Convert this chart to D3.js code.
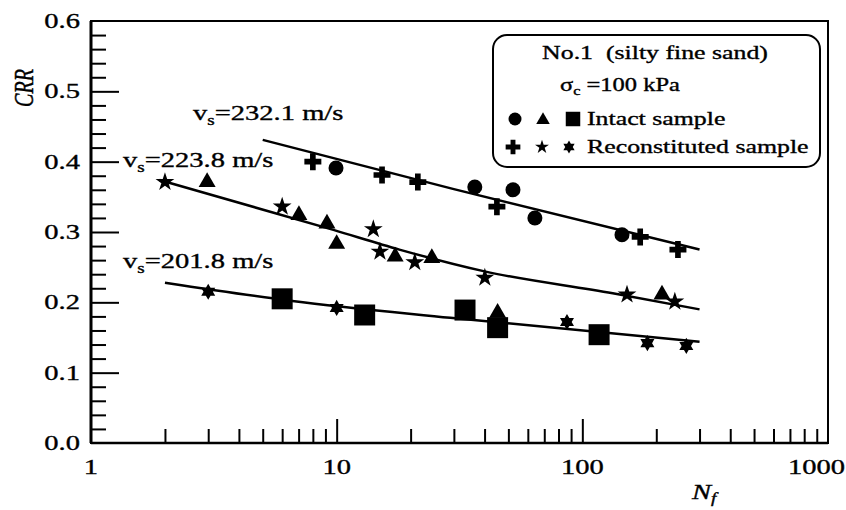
<!DOCTYPE html>
<html>
<head>
<meta charset="utf-8">
<script src="https://cdn.jsdelivr.net/npm/d3@7"></script>
<style>
  body { margin: 0; background: #fff; }
  text { font-family: "Liberation Serif", "Times New Roman", serif; fill: #000; stroke: #000; stroke-width: 0.35; }
</style>
</head>
<body>
<svg id="chart" width="846" height="510"></svg>
<script>
// ---- axis ticks ----
const xTickValues = [1, 10, 100, 1000];
const xTickLabels = ["1", "10", "100", "1000"];
const yTickValues = [0, 0.1, 0.2, 0.3, 0.4, 0.5, 0.6];
const yTickLabels = ["0.0", "0.1", "0.2", "0.3", "0.4", "0.5", "0.6"];

// ---- vs = 232.1 m/s ----
const circleN   = [9.94, 36.5, 52.2, 64.1, 145];
const circleCRR = [0.391, 0.364, 0.360, 0.320, 0.296];
const plusN     = [8.0, 15.3, 21.4, 44.9, 172, 245];
const plusCRR   = [0.400, 0.381, 0.371, 0.336, 0.293, 0.275];
const fitTopN   = [5, 30, 300];
const fitTopCRR = [0.431, 0.361, 0.275];

// ---- vs = 223.8 m/s ----
const triangleN   = [2.97, 7.02, 9.13, 10.0, 17.3, 24.4, 211, 45.2];
const triangleCRR = [0.371, 0.324, 0.312, 0.283, 0.265, 0.263, 0.211, 0.185];
const starN       = [2.0, 6.0, 14.1, 15.0, 20.8, 40.1, 152, 238];
const starCRR     = [0.371, 0.336, 0.304, 0.272, 0.257, 0.235, 0.211, 0.201];
const fitMidN     = [1.9, 9.7, 18, 40, 133, 300];
const fitMidCRR   = [0.374, 0.303, 0.275, 0.244, 0.213, 0.190];

// ---- vs = 201.8 m/s ----
const squareN    = [6.0, 13.0, 33.3, 45.2, 117];
const squareCRR  = [0.205, 0.182, 0.189, 0.164, 0.154];
const star6N     = [3.0, 10.0, 86.6, 184, 265];
const star6CRR   = [0.215, 0.192, 0.172, 0.142, 0.138];
const fitLowN    = [2, 6.6, 29, 300];
const fitLowCRR  = [0.228, 0.202, 0.178, 0.144];

const legendTitle = "No.1\u00a0\u00a0(silty fine sand)";
const legendIntact = "Intact sample";
const legendRecon = "Reconstituted sample";

// ---- layout ----
const svg = d3.select("#chart");
const plotLeft = 91, plotRight = 828, plotTop = 21, plotBottom = 443;
const x = d3.scaleLog().domain([1, 1000]).range([plotLeft, plotRight]);
const y = d3.scaleLinear().domain([0, 0.6]).range([plotBottom, plotTop]);
const SX = 1.36; // horizontal stretch of the lettering

// six-pointed star marker
const symbolStar6 = {
  draw(ctx, size) {
    const r = Math.sqrt(size / 2.6), ri = r * 0.58;
    for (let i = 0; i < 12; i++) {
      const a = Math.PI * i / 6 - Math.PI / 2;
      const rr = i % 2 ? ri : r;
      const px = rr * Math.cos(a), py = rr * Math.sin(a);
      if (i === 0) ctx.moveTo(px, py); else ctx.lineTo(px, py);
    }
    ctx.closePath();
  }
};

function label(g, px, py, size, anchor) {
  return g.append("text")
    .attr("transform", `translate(${px},${py}) scale(${SX},1)`)
    .attr("font-size", size)
    .attr("text-anchor", anchor || "start");
}

// ---- frame ----
svg.append("rect")
  .attr("x", plotLeft).attr("y", plotTop)
  .attr("width", plotRight - plotLeft).attr("height", plotBottom - plotTop)
  .attr("fill", "none").attr("stroke", "#000").attr("stroke-width", 2);
svg.append("line").attr("x1", plotLeft).attr("x2", plotLeft).attr("y1", plotTop).attr("y2", plotBottom)
  .attr("stroke", "#000").attr("stroke-width", 3);
svg.append("line").attr("x1", plotLeft).attr("x2", plotRight).attr("y1", plotBottom).attr("y2", plotBottom)
  .attr("stroke", "#000").attr("stroke-width", 2.5);

// ---- y ticks (inward) ----
const yMinor = d3.range(1, 30).map(k => k * 0.02);
const yAxis = d3.axisRight(y).tickValues(yMinor).tickSize(15).tickFormat("");
const gy = svg.append("g").attr("transform", `translate(${plotLeft},0)`).call(yAxis);
gy.select(".domain").remove();
gy.selectAll("line")
  .attr("x2", d => (Math.abs(d * 10 - Math.round(d * 10)) < 1e-6 ? 28 : 15))
  .attr("stroke-width", 2);

yTickValues.forEach((v, i) => {
  label(svg, 80, y(v) + 7, 21, "end").text(yTickLabels[i]);
});

// ---- x ticks (inward) ----
const xMinor = [];
[1, 10, 100].forEach(d => { for (let k = 2; k <= 10; k++) xMinor.push(d * k); });
const xAxis = d3.axisTop(x).tickValues(xMinor.filter(v => v < 1000)).tickSize(14).tickFormat("");
const gx = svg.append("g").attr("transform", `translate(0,${plotBottom})`).call(xAxis);
gx.select(".domain").remove();
gx.selectAll("line")
  .attr("y2", d => (d === 10 || d === 100 ? -24 : -14))
  .attr("stroke-width", 2);

xTickValues.forEach((v, i) => {
  const last = i === xTickValues.length - 1;
  label(svg, last ? 845 : x(v), 474, 21, last ? "end" : "middle").text(xTickLabels[i]);
});

// axis titles
const ny = label(svg, 692, 499, 21, "start").attr("font-style", "italic");
ny.append("tspan").text("N");
ny.append("tspan").attr("font-size", 14).attr("dy", 4).text("f");

svg.append("text")
  .attr("transform", `translate(33,88) rotate(-90) scale(1,${SX})`)
  .attr("font-size", 20).attr("font-style", "italic")
  .attr("text-anchor", "middle").text("CRR");

// ---- fitted curves ----
const fitLine = d3.line().x(d => x(d[0])).y(d => y(d[1])).curve(d3.curveMonotoneX);
[[fitTopN, fitTopCRR], [fitMidN, fitMidCRR], [fitLowN, fitLowCRR]].forEach(([ns, cs]) => {
  svg.append("path")
    .attr("d", fitLine(ns.map((n, i) => [n, cs[i]])))
    .attr("fill", "none").attr("stroke", "#000").attr("stroke-width", 2.5);
});

// ---- markers ----
function plotSeries(ns, cs, type, size) {
  const sym = d3.symbol().type(type).size(size);
  svg.append("g").selectAll("path")
    .data(ns.map((n, i) => [n, cs[i]]))
    .join("path")
    .attr("transform", d => `translate(${x(d[0])},${y(d[1])})`)
    .attr("d", sym)
    .attr("fill", "#000");
}
plotSeries(circleN, circleCRR, d3.symbolCircle, 177);
plotSeries(plusN, plusCRR, d3.symbolCross, 160);
plotSeries(triangleN, triangleCRR, d3.symbolTriangle, 125);
plotSeries(starN, starCRR, d3.symbolStar, 110);
plotSeries(squareN, squareCRR, d3.symbolSquare, 441);
plotSeries(star6N, star6CRR, symbolStar6, 170);

// ---- curve labels ----
function vsLabel(px, py, value) {
  const t = label(svg, px, py, 21, "start");
  t.append("tspan").text("v");
  t.append("tspan").attr("font-size", 14).attr("dy", 5).text("s");
  t.append("tspan").attr("dy", -5).text("=" + value + " m/s");
}
vsLabel(193, 120, "232.1");
vsLabel(123, 167, "223.8");
vsLabel(123, 268, "201.8");

// ---- legend ----
svg.append("rect")
  .attr("x", 493).attr("y", 35).attr("width", 327).attr("height", 132)
  .attr("rx", 14).attr("ry", 14)
  .attr("fill", "#fff").attr("stroke", "#000").attr("stroke-width", 2);

label(svg, 655, 59, 19, "middle").text(legendTitle);
const sig = label(svg, 560, 91, 18, "start");
sig.append("tspan").text("σ");
sig.append("tspan").attr("font-size", 12).attr("dy", 4).text("c");
sig.append("tspan").attr("dy", -4).text("\u00a0=100 kPa");

function legendMark(px, py, type, size) {
  svg.append("path")
    .attr("transform", `translate(${px},${py})`)
    .attr("d", d3.symbol().type(type).size(size)())
    .attr("fill", "#000");
}
legendMark(515, 119, d3.symbolCircle, 133);
legendMark(543, 120, d3.symbolTriangle, 80);
legendMark(573, 119, d3.symbolSquare, 210);
legendMark(513, 147, d3.symbolCross, 120);
legendMark(542, 147, d3.symbolStar, 60);
legendMark(569, 147, symbolStar6, 110);
label(svg, 587, 125, 19, "start").text(legendIntact);
label(svg, 587, 153, 19, "start").text(legendRecon);
</script>
</body>
</html>
